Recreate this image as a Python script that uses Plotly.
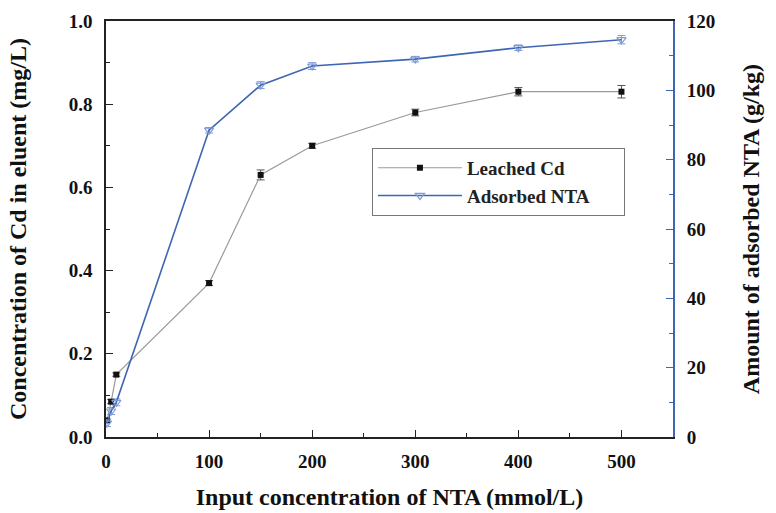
import plotly.graph_objects as go

x_cd = [1, 5, 10, 100, 150, 200, 300, 400, 500]
cd = [0.04, 0.085, 0.15, 0.37, 0.63, 0.70, 0.78, 0.83, 0.83]
cd_err = [0.003, 0.005, 0.004, 0.006, 0.012, 0.006, 0.008, 0.01, 0.015]

x_nta = [1, 5, 10, 100, 150, 200, 300, 400, 500]
nta = [4, 7.5, 10, 88.5, 101.5, 107, 109, 112.3, 114.6]
nta_err = [1, 1, 1, 0.8, 1, 1, 0.8, 0.8, 1.2]

font_family = "Liberation Serif"
blue = "#3f66b3"
pad = "\u00a0" * 6

fig = go.Figure()
fig.add_trace(go.Scatter(
    x=x_cd, y=cd, name="Leached Cd" + pad, mode="lines+markers",
    line=dict(color="#9a9a9a", width=1.2),
    marker=dict(symbol="square", color="#111111", size=6),
    error_y=dict(type="data", array=cd_err, color="#555555", thickness=1, width=4),
))
fig.add_trace(go.Scatter(
    x=x_nta, y=nta, name="Adsorbed NTA" + pad, mode="lines+markers", yaxis="y2",
    line=dict(color=blue, width=1.6),
    marker=dict(symbol="triangle-down-open", color="#7f9bd6", size=8, line=dict(width=1.2)),
    error_y=dict(type="data", array=nta_err, color="#7f9bd6", thickness=1, width=4),
))

tickfont = dict(family=font_family, size=19, color="#111111", weight="bold")
titlefont = dict(family=font_family, size=24, color="#111111", weight="bold")
fig.update_layout(
    width=776, height=513,
    margin=dict(l=106, r=103, t=21, b=76, autoexpand=False),
    paper_bgcolor="white", plot_bgcolor="white",
    font=dict(family=font_family, color="#111111"),
    showlegend=True,
    legend=dict(
        x=0.469, y=0.695, xanchor="left", yanchor="top",
        bordercolor="#777777", borderwidth=1, bgcolor="white",
        font=dict(family=font_family, size=19, color="#222222", weight="bold"),
        itemwidth=84, tracegroupgap=0,
    ),
    xaxis=dict(
        range=[0, 550], tickvals=[0, 100, 200, 300, 400, 500], automargin=False,
        ticks="inside", ticklen=7, tickwidth=1.2, tickcolor="#222222",
        minor=dict(dtick=50, ticks="inside", ticklen=4, tickcolor="#222222"),
        showline=True, linecolor="#222222", linewidth=1.5, mirror=True,
        showgrid=False, zeroline=False, ticklabelstandoff=6,
        tickfont=tickfont,
        title=dict(text="Input concentration of NTA (mmol/L)", standoff=18, font=titlefont),
    ),
    yaxis=dict(
        range=[0, 1.0], dtick=0.2, tickformat=".1f", automargin=False,
        ticks="inside", ticklen=7, tickwidth=1.2, tickcolor="#222222",
        minor=dict(dtick=0.1, ticks="inside", ticklen=4, tickcolor="#222222"),
        showline=True, linecolor="#222222", linewidth=1.5,
        showgrid=False, zeroline=False, ticklabelstandoff=8,
        tickfont=tickfont,
        title=dict(text="Concentration of Cd in eluent (mg/L)", standoff=35, font=titlefont),
    ),
    yaxis2=dict(
        range=[0, 120], dtick=20, overlaying="y", side="right", automargin=False,
        ticks="inside", ticklen=7, tickwidth=1.2, tickcolor=blue,
        minor=dict(dtick=10, ticks="inside", ticklen=4, tickcolor=blue),
        showline=True, linecolor=blue, linewidth=2,
        showgrid=False, zeroline=False, ticklabelstandoff=8,
        tickfont=tickfont,
        title=dict(text="Amount of adsorbed NTA (g/kg)", standoff=28, font=titlefont),
    ),
)
fig.write_html("out.html", config={"displayModeBar": False},
               post_script="document.body.style.margin='0';")
